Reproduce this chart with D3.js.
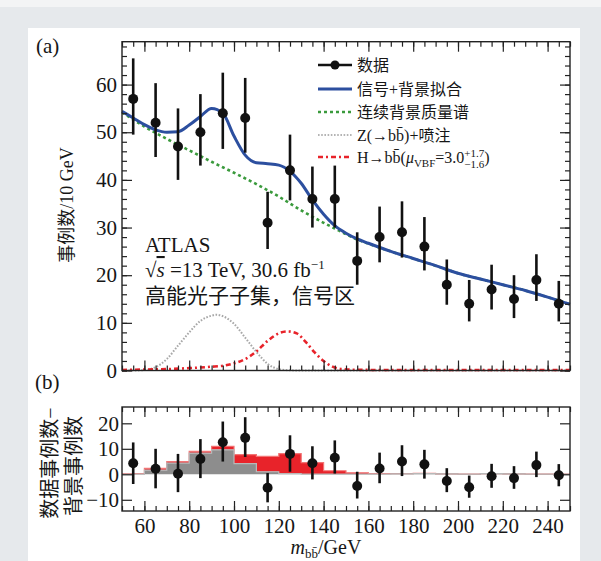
<!DOCTYPE html>
<html>
<head>
<meta charset="utf-8">
<script src="https://cdn.jsdelivr.net/npm/d3@7"></script>
<style>
  body { margin: 0; background: #e6e9ec; }
  text { font-family: "Liberation Serif", "Noto Sans CJK SC", serif; fill: #161616; }
</style>
</head>
<body>
<svg id="chart" width="601" height="561"></svg>
<script>
// ---- data ----
var binCenters = [55, 65, 75, 85, 95, 105, 115, 125, 135, 145, 155, 165, 175, 185, 195, 205, 215, 225, 235, 245];
var dataCounts = [57, 52, 47, 50, 54, 53, 31, 42, 36, 36, 23, 28, 29, 26, 18, 14, 17, 15, 19, 14];
var dataErrUp  = [8.5, 8.3, 8, 8, 8.5, 8.4, 6.5, 7.5, 6.8, 7, 6, 6.4, 6.5, 6.2, 5.3, 5, 5.2, 5, 5.4, 4.8];
var dataErrDn  = [7.5, 7.2, 7, 7, 7.5, 7.3, 5.5, 6.3, 6, 6, 5, 5.3, 5.3, 5, 4.2, 3.7, 4.2, 4, 4.4, 3.7];

// signal + background fit
var fitMass = [50, 55, 60, 65, 70, 75, 80, 85, 90, 95, 100, 105, 110, 115, 120, 125, 130, 135, 140, 145, 150, 155, 160, 170, 180, 190, 200, 210, 220, 230, 240, 250];
var fitVals = [54.4, 53.0, 51.6, 50.5, 50.0, 50.1, 51.5, 53.3, 55.0, 54.0, 49.2, 45.2, 43.6, 43.4, 43.1, 41.8, 39.3, 35.8, 32.8, 30.4, 28.8, 27.6, 26.7, 25.0, 23.5, 22.0, 20.4, 19.2, 18.0, 16.8, 15.4, 13.9];

// continuum background
var bkgMass = [50, 60, 70, 80, 90, 100, 110, 120, 130, 140, 145, 150, 155, 160, 170, 180, 190, 200, 210, 220, 230, 240, 250];
var bkgVals = [54.2, 51.2, 48.6, 46.2, 43.8, 41.5, 39.1, 36.5, 33.6, 31.0, 29.8, 28.6, 27.5, 26.6, 25.0, 23.5, 22.0, 20.4, 19.2, 18.0, 16.8, 15.4, 13.9];

// Z(->bb)+jets
var zMass = [50, 55, 60, 65, 70, 75, 80, 85, 90, 92, 95, 100, 105, 110, 115, 120, 125, 130, 250];
var zVals = [0, 0, 0.1, 0.7, 2.4, 5.2, 8.0, 10.4, 11.5, 11.7, 11.4, 9.8, 6.9, 3.9, 1.4, 0.3, 0.05, 0, 0];

// H->bb
var hMass = [50, 60, 70, 80, 90, 95, 100, 105, 110, 115, 120, 124, 128, 132, 136, 140, 144, 148, 155, 170, 250];
var hVals = [0.1, 0.2, 0.3, 0.5, 0.8, 1.0, 1.5, 2.4, 4.0, 6.2, 7.8, 8.2, 7.8, 6.0, 3.8, 2.0, 0.8, 0.3, 0.15, 0.1, 0.1];

// lower panel: data - background
var residVals = [4.3, 2.2, 0.2, 6, 12.6, 14.3, -5.3, 8, 4.3, 6.5, -4.6, 2.3, 5, 3.9, -2.6, -5.1, -0.8, -1.5, 3.6, -0.4];
var residHi   = [12.5, 10, 8, 13.8, 20.7, 22.4, 0.5, 15.3, 11, 13.3, 1, 8.5, 11.4, 9.6, 2.4, -0.5, 4.1, 3.2, 8.9, 4];
var residLo   = [-3.8, -5.5, -7, -1.5, 5, 6.8, -11, 1, -2, 0.3, -9.5, -3.5, -0.7, -1.7, -7, -9.2, -5.3, -5.7, -1.1, -4.7];
var binEdges  = [50, 60, 70, 80, 90, 100, 110, 120, 130, 140, 150, 160, 170, 180, 190, 200, 210, 220, 230, 240, 250];
var zHist     = [0.1, 1.6, 4.4, 8.3, 9.6, 4.2, 1.0, 0.3, 0.1, 0.1, 0.1, 0.1, 0.2, 0.3, 0.2, 0.1, 0.3, 0.2, 0.1, 0.1];
var hHist     = [0.2, 0.7, 0.6, 0.7, 1.4, 3.5, 6.0, 7.8, 4.5, 1.3, 0.5, 0.2, 0.1, 0.1, 0, 0, 0, 0, 0, 0];

var topTicks = [0, 10, 20, 30, 40, 50, 60];
var botTicks = [-10, 0, 10, 20];
var massTicks = [60, 80, 100, 120, 140, 160, 180, 200, 220, 240];

// ---- layout ----
var svg = d3.select('#chart');
var left = 122, right = 570;
var top1 = 41.7, bot1 = 370.5;
var top2 = 407, bot2 = 511;
var serif = '"Liberation Serif", "Noto Sans CJK SC", serif';

svg.append('rect').attr('x', 0).attr('y', 0).attr('width', 601).attr('height', 7).style('fill', '#f3f4f5');
svg.append('rect').attr('x', 28).attr('y', 28).attr('width', 552).attr('height', 533).style('fill', '#fff');

var x = d3.scaleLinear().domain([50, 250]).range([left, right]);
var y1 = d3.scaleLinear().domain([0, 69]).range([bot1, top1]);
var y2 = d3.scaleLinear().domain([-14.4, 26.4]).range([bot2, top2]);

var minorMass = d3.range(50, 251, 5);

function drawFrame(y, yMajor, yMinor, yTop, yBot, labelPad, fontSize, showX) {
    var g = svg.append('g');
    var axes = [];
    // left
    axes.push(g.append('g').attr('transform', 'translate(' + left + ',0)')
        .call(d3.axisLeft(y).tickValues(yMajor).tickSizeInner(-10).tickSizeOuter(0).tickPadding(labelPad)));
    if (yMinor) axes.push(g.append('g').attr('transform', 'translate(' + left + ',0)')
        .call(d3.axisLeft(y).tickValues(yMinor).tickSizeInner(-5).tickSizeOuter(0).tickFormat('')));
    // right
    axes.push(g.append('g').attr('transform', 'translate(' + right + ',0)')
        .call(d3.axisRight(y).tickValues(yMajor).tickSizeInner(-10).tickSizeOuter(0).tickFormat('')));
    if (yMinor) axes.push(g.append('g').attr('transform', 'translate(' + right + ',0)')
        .call(d3.axisRight(y).tickValues(yMinor).tickSizeInner(-5).tickSizeOuter(0).tickFormat('')));
    // top
    axes.push(g.append('g').attr('transform', 'translate(0,' + yTop + ')')
        .call(d3.axisTop(x).tickValues(massTicks).tickSizeInner(-10).tickSizeOuter(0).tickFormat('')));
    axes.push(g.append('g').attr('transform', 'translate(0,' + yTop + ')')
        .call(d3.axisTop(x).tickValues(minorMass).tickSizeInner(-5).tickSizeOuter(0).tickFormat('')));
    // bottom
    axes.push(g.append('g').attr('transform', 'translate(0,' + yBot + ')')
        .call(d3.axisBottom(x).tickValues(massTicks).tickSizeInner(-10).tickSizeOuter(0).tickPadding(7)
            .tickFormat(showX ? d3.format('d') : '')));
    axes.push(g.append('g').attr('transform', 'translate(0,' + yBot + ')')
        .call(d3.axisBottom(x).tickValues(minorMass).tickSizeInner(-5).tickSizeOuter(0).tickFormat('')));

    axes.forEach(function (a) {
        a.select('.domain').remove();
        a.selectAll('line').style('stroke', '#222').style('stroke-width', 1.2);
        a.selectAll('text').style('font-family', serif).style('font-size', fontSize + 'px').style('fill', '#161616');
    });
    g.append('rect').attr('x', left).attr('y', yTop).attr('width', right - left).attr('height', yBot - yTop)
        .style('fill', 'none').style('stroke', '#222').style('stroke-width', 1.4);
    return g;
}

// ---- panel (a) ----
var line1 = d3.line().x(function (d) { return x(d[0]); }).y(function (d) { return y1(d[1]); }).curve(d3.curveMonotoneX);
function pairs(xs, ys) { return xs.map(function (v, i) { return [v, ys[i]]; }); }

var curves = svg.append('g');
curves.append('path').datum(pairs(zMass, zVals)).attr('d', line1)
    .style('fill', 'none').style('stroke', '#a8a8a8').style('stroke-width', 2).style('stroke-dasharray', '1.6,1.6');
curves.append('path').datum(pairs(hMass, hVals)).attr('d', line1)
    .style('fill', 'none').style('stroke', '#e8232a').style('stroke-width', 2.6).style('stroke-dasharray', '5,3,2,3');
curves.append('path').datum(pairs(bkgMass, bkgVals)).attr('d', line1)
    .style('fill', 'none').style('stroke', '#3a9a3c').style('stroke-width', 2.6).style('stroke-dasharray', '3,3');
curves.append('path').datum(pairs(fitMass, fitVals)).attr('d', line1)
    .style('fill', 'none').style('stroke', '#2c4f9f').style('stroke-width', 3);

drawFrame(y1, topTicks, d3.range(0, 69, 2), top1, bot1, 5, 21, false);

var pts = svg.append('g');
pts.selectAll('line.err').data(binCenters).enter().append('line')
    .attr('x1', function (d) { return x(d); }).attr('x2', function (d) { return x(d); })
    .attr('y1', function (d, i) { return y1(dataCounts[i] + dataErrUp[i]); })
    .attr('y2', function (d, i) { return y1(dataCounts[i] - dataErrDn[i]); })
    .style('stroke', '#111').style('stroke-width', 2.6);
pts.selectAll('circle').data(binCenters).enter().append('circle')
    .attr('cx', function (d) { return x(d); }).attr('cy', function (d, i) { return y1(dataCounts[i]); })
    .attr('r', 5).style('fill', '#111');

// legend
var legRows = [65, 89, 112, 135, 157];
var lx0 = 318, lx1 = 352, ltx = 357;
var leg = svg.append('g').style('font-size', '16px');
leg.append('line').attr('x1', lx0).attr('x2', lx1).attr('y1', legRows[0]).attr('y2', legRows[0]).style('stroke', '#111').style('stroke-width', 2.6);
leg.append('circle').attr('cx', (lx0 + lx1) / 2).attr('cy', legRows[0]).attr('r', 4.5).style('fill', '#111');
leg.append('line').attr('x1', lx0).attr('x2', lx1).attr('y1', legRows[1]).attr('y2', legRows[1]).style('stroke', '#2c4f9f').style('stroke-width', 3);
leg.append('line').attr('x1', lx0).attr('x2', lx1).attr('y1', legRows[2]).attr('y2', legRows[2]).style('stroke', '#3a9a3c').style('stroke-width', 2.6).style('stroke-dasharray', '3,3');
leg.append('line').attr('x1', lx0).attr('x2', lx1).attr('y1', legRows[3]).attr('y2', legRows[3]).style('stroke', '#b4b4b4').style('stroke-width', 2).style('stroke-dasharray', '1.6,1.6');
leg.append('line').attr('x1', lx0).attr('x2', lx1).attr('y1', legRows[4]).attr('y2', legRows[4]).style('stroke', '#e8232a').style('stroke-width', 2.6).style('stroke-dasharray', '5,3,2,3');

leg.append('text').attr('x', ltx).attr('y', legRows[0] + 6).text('数据');
leg.append('text').attr('x', ltx).attr('y', legRows[1] + 6).text('信号+背景拟合');
leg.append('text').attr('x', ltx).attr('y', legRows[2] + 6).text('连续背景质量谱');
leg.append('text').attr('x', ltx).attr('y', legRows[3] + 6).text('Z(→bb\u0304)+喷注');

var hText = leg.append('text').attr('x', ltx).attr('y', legRows[4] + 6);
hText.append('tspan').text('H→bb\u0304(');
hText.append('tspan').style('font-style', 'italic').text('μ');
hText.append('tspan').attr('dy', 4).style('font-size', '11px').text('VBF');
hText.append('tspan').attr('dy', -4).text('=3.0');
var sup = hText.append('tspan').attr('dy', -6).style('font-size', '11px').text('+1.7');
var supW = sup.node().getComputedTextLength();
hText.append('tspan').attr('dx', -supW).attr('dy', 11).style('font-size', '11px').text('−1.6');
hText.append('tspan').attr('dy', -5).text(')');

// annotations
svg.append('text').attr('x', 36).attr('y', 53).style('font-size', '21px').text('(a)');
var atlas = svg.append('g').style('font-size', '21px');
atlas.append('text').attr('x', 145).attr('y', 252).text('ATLAS');
var s2 = atlas.append('text').attr('x', 145).attr('y', 277);
s2.append('tspan').text('√');
s2.append('tspan').style('font-style', 'italic').style('text-decoration', 'overline').text('s');
s2.append('tspan').text(' =13 TeV, 30.6 fb');
s2.append('tspan').attr('dy', -8).style('font-size', '13px').text('−1');
atlas.append('text').attr('x', 145).attr('y', 303).text('高能光子子集，信号区');

svg.append('text').attr('transform', 'translate(67,205) rotate(-90)')
    .attr('text-anchor', 'middle').attr('dominant-baseline', 'central')
    .style('font-size', '18px').text('事例数/10 GeV');

// ---- panel (b) ----
var hist = binEdges.slice(0, -1).map(function (e, i) { return { lo: e, hi: binEdges[i + 1], z: zHist[i], h: hHist[i] }; });
var stacked = d3.stack().keys(['z', 'h'])(hist);
var area2 = d3.area().curve(d3.curveStepAfter)
    .x(function (d) { return x(d.x); }).y0(function (d) { return y2(d.y0); }).y1(function (d) { return y2(d.y1); });
function steps(layer) {
    var out = [];
    layer.forEach(function (d) { out.push({ x: d.data.lo, y0: d[0], y1: d[1] }); });
    var last = layer[layer.length - 1];
    out.push({ x: last.data.hi, y0: last[0], y1: last[1] });
    return out;
}
var histCol = { z: '#8d8d8d', h: '#e8232a' };
var histEdge = { z: '#b8b8b8', h: '#f27474' };
stacked.slice().reverse().forEach(function (layer) {
    var st = steps(layer);
    svg.append('path').datum(st).attr('d', area2).style('fill', histCol[layer.key]);
    svg.append('path').datum(st)
        .attr('d', d3.line().curve(d3.curveStepAfter).x(function (d) { return x(d.x); }).y(function (d) { return y2(d.y1); }))
        .style('fill', 'none').style('stroke', histEdge[layer.key]).style('stroke-width', 1.2);
});

drawFrame(y2, botTicks, null, top2, bot2, 3, 21, true);

var pts2 = svg.append('g');
pts2.selectAll('line').data(binCenters).enter().append('line')
    .attr('x1', function (d) { return x(d); }).attr('x2', function (d) { return x(d); })
    .attr('y1', function (d, i) { return y2(residHi[i]); })
    .attr('y2', function (d, i) { return y2(residLo[i]); })
    .style('stroke', '#111').style('stroke-width', 2.6);
pts2.selectAll('circle').data(binCenters).enter().append('circle')
    .attr('cx', function (d) { return x(d); }).attr('cy', function (d, i) { return y2(residVals[i]); })
    .attr('r', 5).style('fill', '#111');

svg.append('text').attr('x', 35).attr('y', 389).style('font-size', '21px').text('(b)');
svg.append('text').attr('transform', 'translate(50,463) rotate(-90)')
    .attr('text-anchor', 'middle').attr('dominant-baseline', 'central')
    .style('font-size', '20px').text('数据事例数−');
svg.append('text').attr('transform', 'translate(74,466) rotate(-90)')
    .attr('text-anchor', 'middle').attr('dominant-baseline', 'central')
    .style('font-size', '20px').text('背景事例数');

var xt = svg.append('text').attr('x', 326).attr('y', 554).attr('text-anchor', 'middle').style('font-size', '20px');
xt.append('tspan').style('font-style', 'italic').text('m');
xt.append('tspan').attr('dy', 4).style('font-size', '13px').text('bb\u0304');
xt.append('tspan').attr('dy', -4).text('/GeV');
</script>
</body>
</html>
